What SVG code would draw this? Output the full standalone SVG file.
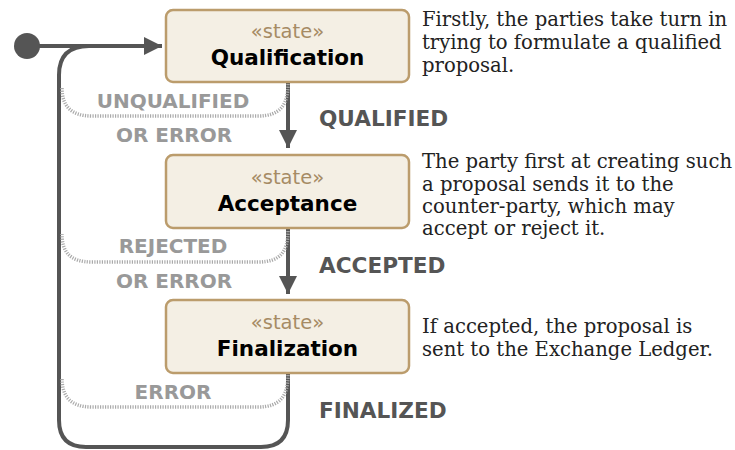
<svg xmlns="http://www.w3.org/2000/svg" width="735" height="450" viewBox="0 0 735 450">
<defs>
<style>
.box{fill:#f4efe4;stroke:#bb9c6c;stroke-width:2.5}
.st{font-family:"DejaVu Sans",sans-serif;font-size:19.5px;fill:#a68b64;text-anchor:middle}
.nm{font-family:"DejaVu Sans",sans-serif;font-size:21.5px;font-weight:bold;fill:#000;text-anchor:middle}
.desc{font-family:"DejaVu Serif",serif;font-size:19.6px;fill:#222}
.lbl{font-family:"DejaVu Sans",sans-serif;font-size:21.6px;font-weight:bold;fill:#555}
.glbl{font-family:"DejaVu Sans",sans-serif;font-size:20px;font-weight:bold;fill:#999;text-anchor:middle}
.edge{fill:none;stroke:#555;stroke-width:4}
.dot{fill:none;stroke:#aaa;stroke-width:3.5;stroke-dasharray:1.2 1.3}
</style>
<marker id="ah" viewBox="0 0 10 10" refX="10" refY="5" markerWidth="4.5" markerHeight="4.5" orient="auto" markerUnits="strokeWidth">
<path d="M0,0 L10,5 L0,10 Z" fill="#555"/>
</marker>
</defs>
<g id="connectors">
<circle cx="27" cy="46" r="13" fill="#555"/>
<path class="edge" d="M27,46 H162" marker-end="url(#ah)"/>
<path class="edge" d="M288,373 V420 Q288,447 261,447 H86 Q59,447 59,420 V75 Q59,46 89,46 H120"/>
<path class="edge" d="M288,82 V148" marker-end="url(#ah)"/>
<path class="edge" d="M288,229 V294" marker-end="url(#ah)"/>
<path class="dot" d="M288,84 C288,105 280,116 258,116 H92 C70,116 62,105 62,88"/>
<path class="dot" d="M288,231 C288,252 280,262 258,262 H92 C70,262 62,252 62,234"/>
<path class="dot" d="M288,375 C288,396 280,407 258,407 H92 C70,407 62,396 62,378"/>
</g>
<g id="labels">
<text class="glbl" x="173" y="108">UNQUALIFIED</text>
<text class="glbl" x="174" y="142">OR ERROR</text>
<text class="glbl" x="173" y="253">REJECTED</text>
<text class="glbl" x="174" y="288">OR ERROR</text>
<text class="glbl" x="173" y="399">ERROR</text>
<text class="lbl" x="319" y="126">QUALIFIED</text>
<text class="lbl" x="319" y="273">ACCEPTED</text>
<text class="lbl" x="319" y="418">FINALIZED</text>
</g>
<g id="qualification">
<rect class="box" x="166" y="10" width="243" height="72" rx="7"/>
<text class="st" x="287.5" y="38">«state»</text>
<text class="nm" x="287.5" y="65">Qualification</text>
<text class="desc"><tspan x="422" y="26">Firstly, the parties take turn in</tspan><tspan x="422" y="49">trying to formulate a qualified</tspan><tspan x="422" y="72">proposal.</tspan></text>
</g>
<g id="acceptance">
<rect class="box" x="166" y="155" width="243" height="73" rx="7"/>
<text class="st" x="287.5" y="184">«state»</text>
<text class="nm" x="287.5" y="211">Acceptance</text>
<text class="desc"><tspan x="422" y="168">The party first at creating such</tspan><tspan x="422" y="191">a proposal sends it to the</tspan><tspan x="422" y="213">counter-party, which may</tspan><tspan x="422" y="235">accept or reject it.</tspan></text>
</g>
<g id="finalization">
<rect class="box" x="166" y="300" width="243" height="73" rx="7"/>
<text class="st" x="287.5" y="329">«state»</text>
<text class="nm" x="287.5" y="356">Finalization</text>
<text class="desc"><tspan x="422" y="333">If accepted, the proposal is</tspan><tspan x="422" y="356">sent to the Exchange Ledger.</tspan></text>
</g>
</svg>
